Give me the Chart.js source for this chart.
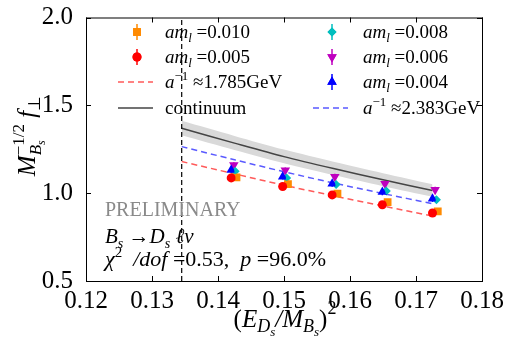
<!DOCTYPE html>
<html>
<head>
<meta charset="utf-8">
<script src="https://cdn.jsdelivr.net/npm/chart.js@4"></script>
<style>
  html, body { margin: 0; padding: 0; background: #fff; }
  #wrap { width: 507px; height: 344px; }
</style>
</head>
<body>
<div id="wrap"><canvas id="chart" width="507" height="344"></canvas></div>
<script>
// axis ranges and ticks
const X_MIN = 0.12, X_MAX = 0.18;
const Y_MIN = 0.5, Y_MAX = 2.0;
const xTickStep = 0.01;
const yTickStep = 0.5;

// fit curves, sampled along x
const fitX = [0.1345, 0.1425, 0.15, 0.1575, 0.165, 0.1725];
const continuum = [1.370, 1.285, 1.208, 1.140, 1.076, 1.015];
const bandUpper = [1.412, 1.326, 1.248, 1.179, 1.114, 1.051];
const bandLower = [1.330, 1.246, 1.170, 1.103, 1.040, 0.980];
const fitFine = [1.265, 1.190, 1.122, 1.058, 0.998, 0.940];   // a^-1 ~ 2.383 GeV
const fitCoarse = [1.180, 1.110, 1.045, 0.985, 0.927, 0.870]; // a^-1 ~ 1.785 GeV
const cutX = 0.1345;

// lattice data points
const x010 = [0.1428, 0.1506, 0.1581, 0.1657, 0.1733];
const y010 = [1.090, 1.052, 0.997, 0.949, 0.896];
const e010 = [0.012, 0.012, 0.012, 0.013, 0.013];
const x005 = [0.1420, 0.1498, 0.1573, 0.1649, 0.1725];
const y005 = [1.087, 1.038, 0.990, 0.934, 0.887];
const e005 = [0.012, 0.012, 0.013, 0.013, 0.014];
const x008 = [0.1426, 0.1504, 0.1579, 0.1655, 0.1731];
const y008 = [1.125, 1.087, 1.050, 1.012, 0.963];
const e008 = [0.016, 0.016, 0.017, 0.017, 0.018];
const x006 = [0.1424, 0.1502, 0.1577, 0.1653, 0.1729];
const y006 = [1.160, 1.130, 1.094, 1.053, 1.019];
const e006 = [0.016, 0.016, 0.017, 0.018, 0.018];
const x004 = [0.1420, 0.1498, 0.1573, 0.1649, 0.1725];
const y004 = [1.132, 1.094, 1.053, 1.006, 0.968];
const e004 = [0.016, 0.016, 0.017, 0.018, 0.018];

const SERIF = "Liberation Serif";
const ORANGE = "#ff8a00";
const RED = "#ff0000";
const CYAN = "#00bfbf";
const MAGENTA = "#bf00bf";
const BLUE = "#0000ff";

const zip = (xs, ys) => xs.map((x, i) => ({ x, y: ys[i] }));

function pointSet(label, xs, ys, errs, color, style, radius, rotation) {
  return {
    label,
    type: "scatter",
    data: zip(xs, ys),
    errors: errs,
    pointStyle: style,
    pointRadius: radius,
    pointRotation: rotation || 0,
    backgroundColor: color,
    borderColor: color,
    borderWidth: 0,
    order: 1,
  };
}

function lineSet(label, ys, color, dash, width) {
  return {
    label,
    type: "line",
    data: zip(fitX, ys),
    borderColor: color,
    borderWidth: width,
    borderDash: dash,
    pointRadius: 0,
    fill: false,
    tension: 0.3,
    order: 5,
  };
}

// rich text: parts = {t, s, i, dy, mark, back, far}
function fontOf(p) {
  return (p.i ? "italic " : "") + p.s + "px " + SERIF;
}
function layoutRich(ctx, parts) {
  let cx = 0, mark = 0, far = 0;
  const out = [];
  for (const p of parts) {
    ctx.font = fontOf(p);
    if (p.mark) mark = cx;
    if (p.back) cx = mark;
    if (p.far) cx = far;
    out.push({ p, x: cx });
    cx += ctx.measureText(p.t).width;
    far = Math.max(far, cx);
  }
  return { out, width: far };
}
function drawRich(ctx, parts, x, y, align, color) {
  const l = layoutRich(ctx, parts);
  const x0 = align === "center" ? x - l.width / 2 : x;
  ctx.fillStyle = color || "#000";
  ctx.textAlign = "left";
  ctx.textBaseline = "alphabetic";
  for (const o of l.out) {
    ctx.font = fontOf(o.p);
    ctx.fillText(o.p.t, x0 + o.x, y + (o.p.dy || 0));
  }
}

const amL = (v) => [
  { t: "am", s: 19, i: true },
  { t: "l", s: 13, i: true, dy: 4 },
  { t: " =" + v, s: 19 },
];
const aInv = (v) => [
  { t: "a", s: 19, i: true },
  { t: "−1", s: 13, dy: -8 },
  { t: " ≈" + v + "GeV", s: 19 },
];

const legendItems = [
  { col: 0, row: 0, kind: "pt", style: "rect", r: 5.5, color: ORANGE, text: amL("0.010") },
  { col: 1, row: 0, kind: "pt", style: "rectRot", r: 4.5, color: CYAN, text: amL("0.008") },
  { col: 0, row: 1, kind: "pt", style: "circle", r: 4.5, color: RED, text: amL("0.005") },
  { col: 1, row: 1, kind: "pt", style: "triangle", r: 5.5, rot: 180, color: MAGENTA, text: amL("0.006") },
  { col: 0, row: 2, kind: "dash", color: "#ff5a5a", text: aInv("1.785") },
  { col: 1, row: 2, kind: "pt", style: "triangle", r: 5.5, color: BLUE, text: amL("0.004") },
  { col: 0, row: 3, kind: "solid", color: "#444", text: [{ t: "continuum", s: 19 }] },
  { col: 1, row: 3, kind: "dash", color: "#5a5aff", text: aInv("2.383") },
];

const errorBars = {
  id: "errorBars",
  afterDatasetsDraw(chart) {
    const ctx = chart.ctx;
    const ys = chart.scales.y;
    chart.data.datasets.forEach((ds, i) => {
      if (!ds.errors) return;
      const meta = chart.getDatasetMeta(i);
      ctx.save();
      ctx.strokeStyle = ds.borderColor;
      ctx.lineWidth = 1.5;
      meta.data.forEach((pt, j) => {
        const v = ds.data[j].y, e = ds.errors[j];
        ctx.beginPath();
        ctx.moveTo(pt.x, ys.getPixelForValue(v - e));
        ctx.lineTo(pt.x, ys.getPixelForValue(v + e));
        ctx.stroke();
      });
      ctx.restore();
    });
  },
};

const decorations = {
  id: "decorations",
  afterDraw(chart) {
    const ctx = chart.ctx;
    const a = chart.chartArea;
    const xs = chart.scales.x, ys = chart.scales.y;
    ctx.save();

    // frame and inward ticks
    ctx.strokeStyle = "#000";
    ctx.lineWidth = 1;
    ctx.strokeRect(a.left + 0.5, a.top + 0.5, a.right - a.left, a.bottom - a.top);
    ctx.beginPath();
    xs.ticks.forEach((t) => {
      const px = Math.round(xs.getPixelForValue(t.value)) + 0.5;
      ctx.moveTo(px, a.bottom); ctx.lineTo(px, a.bottom - 5);
      ctx.moveTo(px, a.top); ctx.lineTo(px, a.top + 5);
    });
    ys.ticks.forEach((t) => {
      const py = Math.round(ys.getPixelForValue(t.value)) + 0.5;
      ctx.moveTo(a.left, py); ctx.lineTo(a.left + 5, py);
      ctx.moveTo(a.right, py); ctx.lineTo(a.right - 5, py);
    });
    ctx.stroke();

    // legend
    const colMarker = [137, 332], colLine = [[118, 153], [313, 348]], colText = [165, 363];
    const rowY = [32, 57, 82, 108];
    legendItems.forEach((it) => {
      const y = rowY[it.row];
      if (it.kind === "pt") {
        const mx = colMarker[it.col];
        ctx.strokeStyle = it.color;
        ctx.lineWidth = 1.5;
        ctx.beginPath(); ctx.moveTo(mx, y - 8); ctx.lineTo(mx, y + 8); ctx.stroke();
        ctx.fillStyle = it.color;
        Chart.helpers.drawPoint(ctx, { pointStyle: it.style, radius: it.r, rotation: it.rot || 0, borderWidth: 0 }, mx, y);
        ctx.fill();
      } else {
        const [x1, x2] = colLine[it.col];
        ctx.strokeStyle = it.color;
        ctx.lineWidth = 1.5;
        ctx.setLineDash(it.kind === "dash" ? [6, 4] : []);
        ctx.beginPath(); ctx.moveTo(x1, y); ctx.lineTo(x2, y); ctx.stroke();
        ctx.setLineDash([]);
      }
      drawRich(ctx, it.text, colText[it.col], y + 6, "left");
    });

    // annotations
    drawRich(ctx, [{ t: "PRELIMINARY", s: 20 }], 105, 216, "left", "#8a8a8a");
    drawRich(ctx, [
      { t: "B", s: 21, i: true },
      { t: "s", s: 14, i: true, dy: 5 },
      { t: " →", s: 21 },
      { t: "D", s: 21, i: true },
      { t: "s", s: 14, i: true, dy: 5 },
      { t: " ℓν", s: 21, i: true },
    ], 105, 243, "left");
    drawRich(ctx, [
      { t: "χ", s: 22, i: true },
      { t: "2", s: 15, dy: -9 },
      { t: "  /dof ", s: 22, i: true },
      { t: "=0.53,  ", s: 22 },
      { t: "p", s: 22, i: true },
      { t: " =96.0%", s: 22 },
    ], 105, 266, "left");

    // x axis title
    drawRich(ctx, [
      { t: "(", s: 25 },
      { t: "E", s: 25, i: true },
      { t: "D", s: 18, i: true, dy: 5 },
      { t: "s", s: 13, i: true, dy: 9 },
      { t: "/", s: 25, i: true },
      { t: "M", s: 25, i: true },
      { t: "B", s: 18, i: true, dy: 5 },
      { t: "s", s: 13, i: true, dy: 9 },
      { t: ")", s: 25 },
      { t: "2", s: 18, dy: -13 },
    ], 285, 327, "center");

    // y axis title (rotated)
    ctx.translate(35, 136);
    ctx.rotate(-Math.PI / 2);
    drawRich(ctx, [
      { t: "M", s: 25, i: true },
      { t: "B", s: 17, i: true, dy: 6, mark: true },
      { t: "s", s: 12, i: true, dy: 10 },
      { t: "−1/2", s: 17, dy: -11, back: true },
      { t: " f", s: 25, i: true, far: true },
      { t: "⊥", s: 17, dy: 5 },
    ], 0, 0, "center");

    ctx.restore();
  },
};

new Chart(document.getElementById("chart"), {
  type: "scatter",
  data: {
    datasets: [
      pointSet("am_l=0.005", x005, y005, e005, RED, "circle", 4.5),
      pointSet("am_l=0.010", x010, y010, e010, ORANGE, "rect", 5.5),
      pointSet("am_l=0.004", x004, y004, e004, BLUE, "triangle", 5.5),
      pointSet("am_l=0.008", x008, y008, e008, CYAN, "rectRot", 4.5),
      pointSet("am_l=0.006", x006, y006, e006, MAGENTA, "triangle", 5.5, 180),
      lineSet("a^-1 = 1.785GeV", fitCoarse, "#ff5a5a", [6, 4], 1.5),
      lineSet("a^-1 = 2.383GeV", fitFine, "#5a5aff", [6, 4], 1.5),
      lineSet("continuum", continuum, "#444444", [], 1.5),
      {
        label: "band upper",
        type: "line",
        data: zip(fitX, bandUpper),
        borderWidth: 0,
        pointRadius: 0,
        tension: 0.3,
        fill: "+1",
        backgroundColor: "#d9d9d9",
        order: 9,
      },
      {
        label: "band lower",
        type: "line",
        data: zip(fitX, bandLower),
        borderWidth: 0,
        pointRadius: 0,
        tension: 0.3,
        fill: false,
        order: 9,
      },
      {
        label: "cut",
        type: "line",
        data: [{ x: cutX, y: Y_MIN }, { x: cutX, y: Y_MAX }],
        borderColor: "#000",
        borderWidth: 1.2,
        borderDash: [5, 3],
        pointRadius: 0,
        fill: false,
        order: 4,
      },
    ],
  },
  options: {
    responsive: false,
    animation: false,
    layout: { padding: { top: 16, right: 25, left: 0, bottom: 0 } },
    plugins: { legend: { display: false }, tooltip: { enabled: false } },
    scales: {
      x: {
        type: "linear",
        min: X_MIN,
        max: X_MAX,
        grid: { display: false },
        border: { display: false },
        ticks: {
          stepSize: xTickStep,
          color: "#000",
          padding: 0,
          font: { family: SERIF, size: 25, lineHeight: 1 },
          callback: (v) => v.toFixed(2),
        },
        afterFit: (s) => { s.height = 63; },
      },
      y: {
        type: "linear",
        min: Y_MIN,
        max: Y_MAX,
        grid: { display: false },
        border: { display: false },
        ticks: {
          stepSize: yTickStep,
          color: "#000",
          padding: 5,
          font: { family: SERIF, size: 25, lineHeight: 1 },
          callback: (v) => v.toFixed(1),
        },
        afterFit: (s) => { s.width = 86; },
      },
    },
  },
  plugins: [errorBars, decorations],
});
</script>
</body>
</html>
